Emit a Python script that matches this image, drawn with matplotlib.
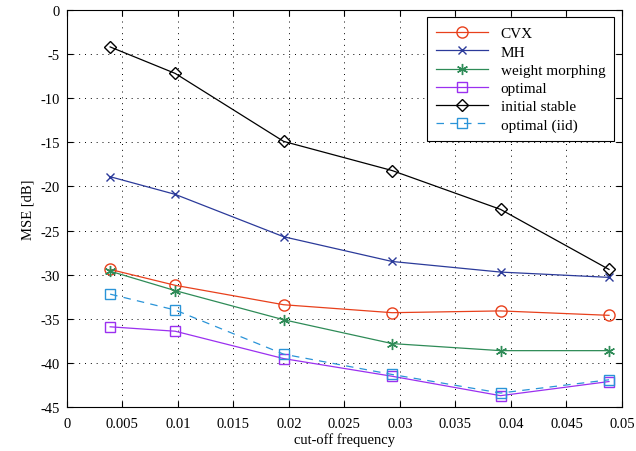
import matplotlib.pyplot as plt

plt.rcParams['font.family'] = ['Liberation Serif', 'DejaVu Serif']
plt.rcParams['axes.unicode_minus'] = False  # 负号用连字符

# 截止频率
freq = [2 / 512, 5 / 512, 10 / 512, 15 / 512, 20 / 512, 25 / 512]

cvx = [-29.4, -31.2, -33.4, -34.3, -34.1, -34.6]
mh = [-18.9, -20.9, -25.7, -28.5, -29.7, -30.3]
weight_morphing = [-29.6, -31.8, -35.1, -37.8, -38.6, -38.6]
optimal = [-35.9, -36.4, -39.5, -41.5, -43.7, -42.1]
initial_stable = [-4.2, -7.2, -14.9, -18.2, -22.6, -29.4]
optimal_iid = [-32.2, -34.0, -39.0, -41.3, -43.4, -41.9]

fig = plt.figure(figsize=(6.36, 4.52), dpi=100)
ax = fig.add_axes([0.105, 0.097, 0.873, 0.879])

ax.plot(freq, cvx, color='#e8401c', marker='o', mfc='none', ms=8, lw=0.9, label='CVX')
ax.plot(freq, mh, color='#2b3a9a', marker='x', ms=6, lw=0.9, label='MH')
ax.plot(freq, weight_morphing, color='#2e8b57', marker=(6, 2, 0), ms=8, lw=0.9, label='weight morphing')
ax.plot(freq, optimal, color='#9b30f0', marker='s', mfc='none', ms=7, lw=0.9, label='optimal')
ax.plot(freq, initial_stable, color='black', marker='D', mfc='none', ms=6.5, lw=0.9, label='initial stable')
ax.plot(freq, optimal_iid, color='#2a94d8', marker='s', mfc='none', ms=7, lw=0.9,
        linestyle=(0, (6, 5)), label='optimal (iid)')

ax.set_xlim(0, 0.05)
ax.set_ylim(-45, 0)
ax.set_xticks([0, 0.005, 0.01, 0.015, 0.02, 0.025, 0.03, 0.035, 0.04, 0.045, 0.05])
ax.set_xticklabels(['0', '0.005', '0.01', '0.015', '0.02', '0.025', '0.03', '0.035', '0.04', '0.045', '0.05'])
ax.set_yticks(range(-45, 1, 5))
ax.tick_params(direction='in', top=True, right=True, labelsize=10.5, length=4)
ax.tick_params(axis='x', pad=7)
ax.tick_params(axis='y', pad=5)
ax.grid(True, linestyle=(0, (1, 5)), color='black', lw=0.7)

ax.set_xlabel('cut-off frequency', fontsize=10.5, labelpad=2)
ax.set_ylabel('MSE [dB]', fontsize=10.5)

leg = ax.legend(loc='upper right', fontsize=11, fancybox=False, edgecolor='black',
                framealpha=1, borderaxespad=0.5, handlelength=3.4, labelspacing=0.3,
                borderpad=0.6)
leg.get_frame().set_linewidth(0.8)

fig.savefig('out.png', dpi=100)
